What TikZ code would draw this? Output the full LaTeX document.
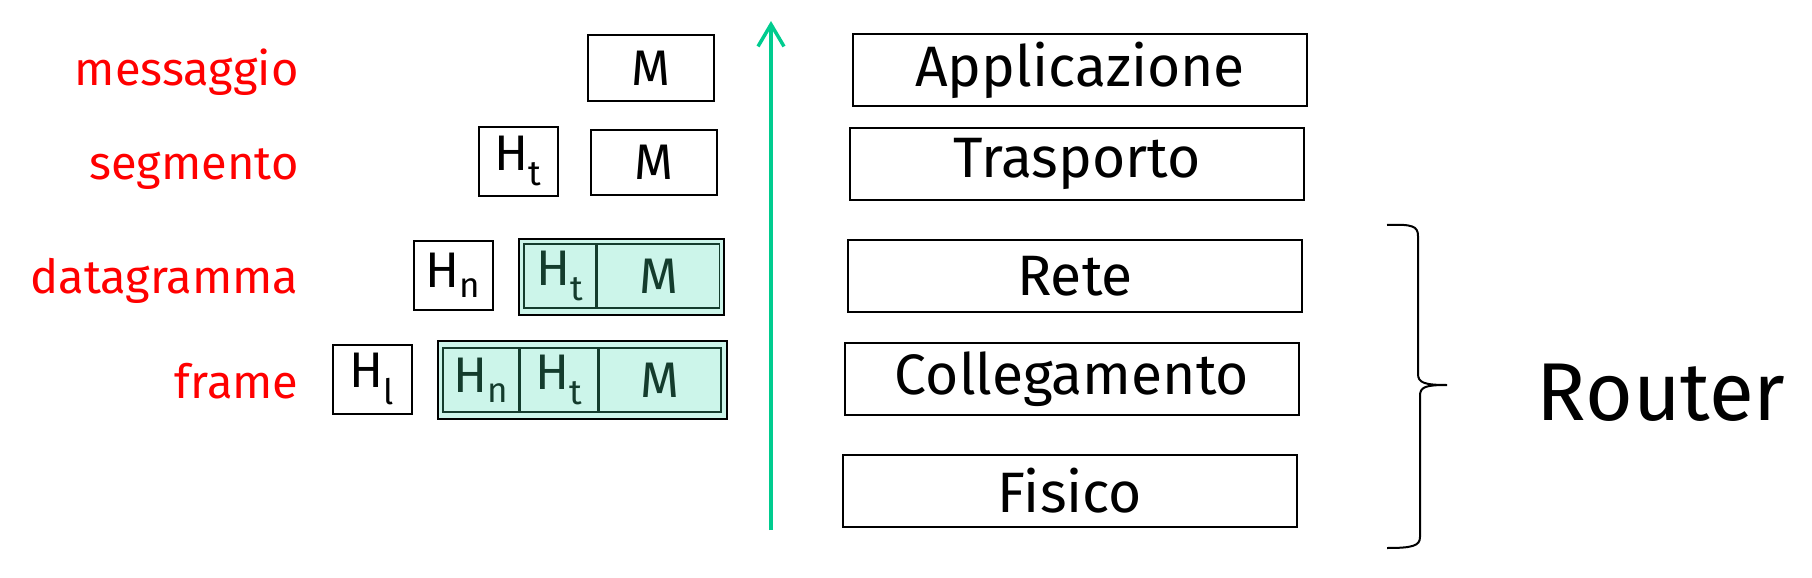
\documentclass[tikz,border=0pt]{standalone}
\usepackage{fontspec}
\setmainfont{Fira Sans}
\usetikzlibrary{arrows.meta}
\definecolor{upgreen}{RGB}{0,204,143}
\definecolor{pktfill}{RGB}{204,245,234}
\definecolor{pktdark}{RGB}{20,60,45}
\tikzset{
  layerbox/.style={draw,line width=2.2pt,minimum width=454,minimum height=72,
    font=\fontsize{57}{62}\selectfont},
  hdrbox/.style={draw,line width=2pt,minimum width=79,minimum height=69,
    font=\fontsize{50}{54}\selectfont},
  msgbox/.style={draw,line width=2pt,minimum width=126,minimum height=65,
    font=\fontsize{50}{54}\selectfont},
  pktouter/.style={draw,line width=2pt,fill=pktfill,inner sep=0pt},
  pktcell/.style={draw=pktdark,line width=1.5pt,minimum height=64,inner sep=0pt,
    text=pktdark,font=\fontsize{50}{54}\selectfont},
  pdulabel/.style={anchor=base east,text=red,font=\fontsize{47}{52}\selectfont},
}
\begin{document}
\begin{tikzpicture}[x=1pt,y=-1pt]
\useasboundingbox (0,0) rectangle (1812,578);
% layers
\node[layerbox] (app) at (1080,70) {Applicazione};
\node[layerbox] (tra) at (1077,164) {Trasporto};
\node[layerbox] (ret) at (1075,276) {Rete};
\node[layerbox] (col) at (1072,379) {Collegamento};
\node[layerbox] (fis) at (1070,491) {Fisico};
% upward arrow
\coordinate (arrlow) at (771,530);
\coordinate (arrtop) at (771,21);
\draw[upgreen,line width=3.5pt,-{Straight Barb[length=22pt,width=26pt,line width=3.5pt]}] (arrlow) -- (arrtop);
% pdu names
\node[pdulabel] (lmsg) at (302,85) {messaggio};
\node[pdulabel] (lseg) at (302,179) {segmento};
\node[pdulabel] (ldat) at (302,293) {datagramma};
\node[pdulabel] (lfra) at (302,398) {frame};
% messaggio
\node[msgbox] (m1) at (651,68) {M};
% segmento
\node[hdrbox] (ht2) at (518,161) {H\textsubscript{t}};
\node[msgbox] (m2) at (654,162) {M};
% datagramma
\node[hdrbox] (hn3) at (453,275) {H\textsubscript{n}};
\draw[pktouter] (519,239) rectangle (724,315);
\node[pktcell,minimum width=72] (ht3) at (560,276) {H\textsubscript{t}};
\node[pktcell,minimum width=122,anchor=west] (m3) at (ht3.east) {M};
% frame
\node[hdrbox] (hl4) at (372,379) {H\textsubscript{l}};
\draw[pktouter] (438,341) rectangle (727,419);
\node[pktcell,minimum width=76] (hn4) at (481,380) {H\textsubscript{n}};
\node[pktcell,minimum width=77,anchor=west] (ht4) at (hn4.east) {H\textsubscript{t}};
\node[pktcell,minimum width=122,anchor=west] (m4) at (ht4.east) {M};
% router brace
\coordinate (brtop) at (1387,225);
\coordinate (brtip) at (1447,385);
\coordinate (brbot) at (1387,548);
\draw[line width=2pt] (brtop) .. controls (1412,224) and (1418,226) .. (1418,236)
  -- (1418,374) .. controls (1418,383) and (1425,385) .. (brtip)
  .. controls (1425,385) and (1420,387) .. (1420,396)
  -- (1420,537) .. controls (1420,546) and (1412,548) .. (brbot);
\node[font=\fontsize{82}{90}\selectfont] (router) at (1661,393) {Router};
\end{tikzpicture}
\end{document}
